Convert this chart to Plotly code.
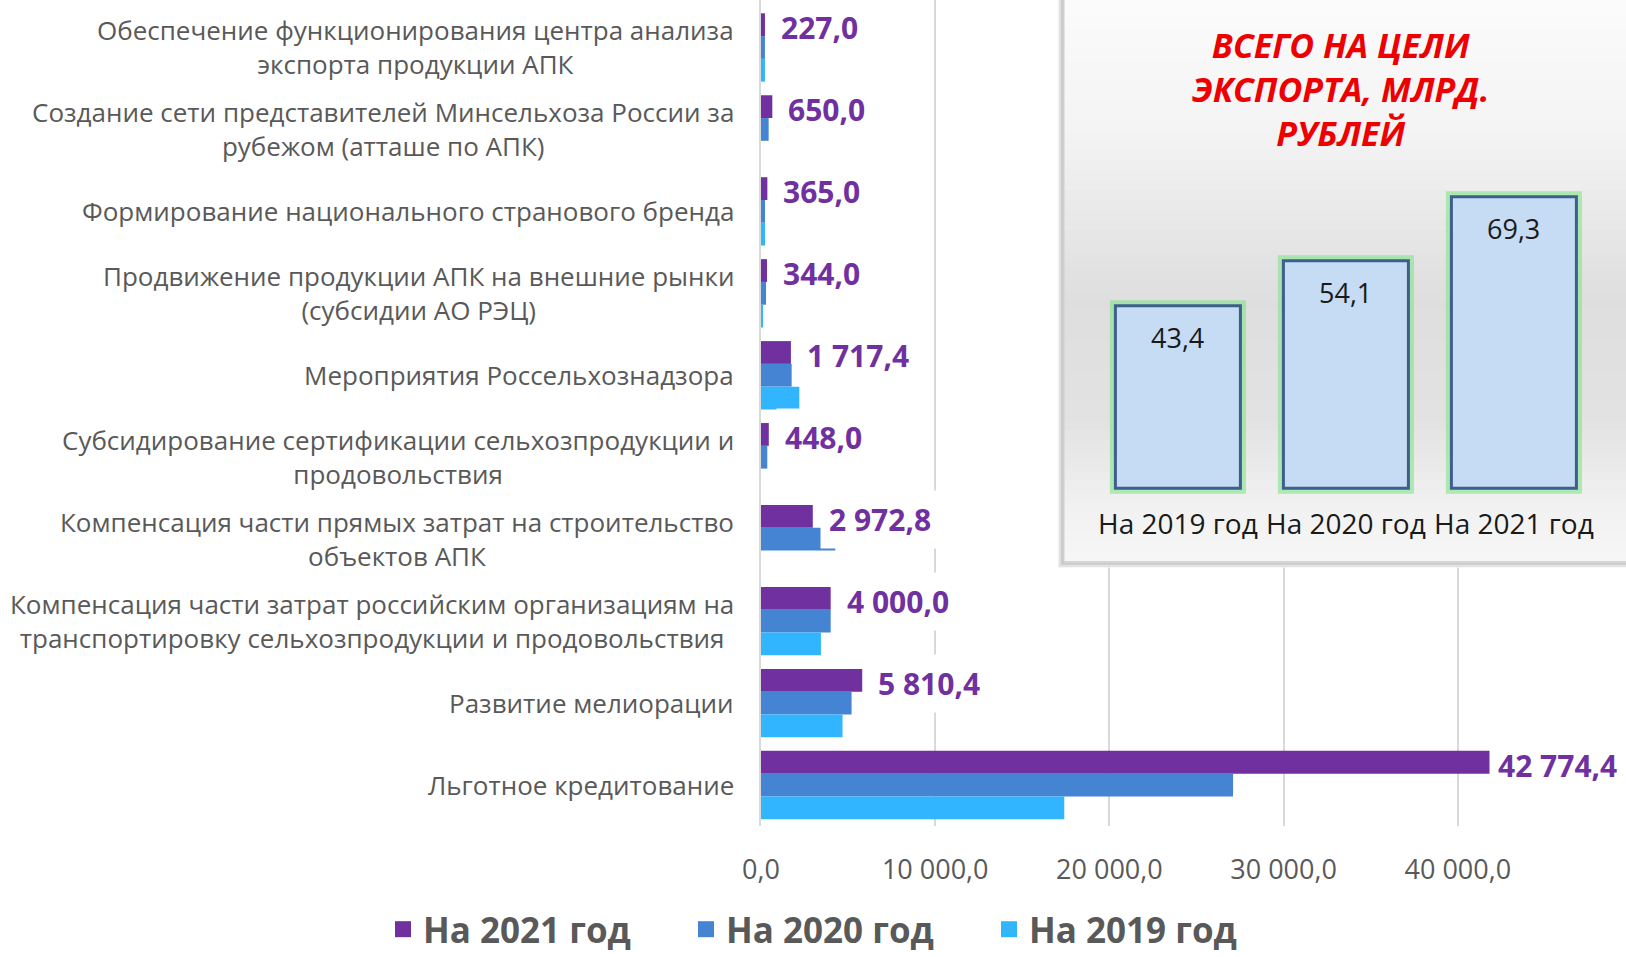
import plotly.graph_objects as go

# ---------------- data ----------------
categories = [
    "Обеспечение функционирования центра анализа<br>экспорта продукции АПК",
    "Создание сети представителей Минсельхоза России за<br>рубежом (атташе по АПК)",
    "Формирование национального странового бренда",
    "Продвижение продукции АПК на внешние рынки<br>(субсидии АО РЭЦ)",
    "Мероприятия Россельхознадзора",
    "Субсидирование сертификации сельхозпродукции и<br>продовольствия",
    "Компенсация части прямых затрат на строительство<br>объектов АПК",
    "Компенсация части затрат российским организациям на<br>транспортировку сельхозпродукции и продовольствия",
    "Развитие мелиорации",
    "Льготное кредитование",
]
v2021 = [227.0, 650.0, 365.0, 344.0, 1717.4, 448.0, 2972.8, 4000.0, 5810.4, 42774.4]
v2020 = [227.0, 440.0, 230.0, 290.0, 1760.0, 360.0, 4265.0, 4000.0, 5200.0, 27100.0]
v2019 = [227.0, 0.0, 230.0, 80.0, 2200.0, 0.0, 0.0, 3440.0, 4680.0, 17410.0]
series_names = ["На 2021 год", "На 2020 год", "На 2019 год"]
series_colors = ["#7030A0", "#4584D3", "#31B5FF"]
x_ticks = [0, 10000, 20000, 30000, 40000]

total_years = ["На 2019 год", "На 2020 год", "На 2021 год"]
total_values = [43.4, 54.1, 69.3]
inset_title = "ВСЕГО НА ЦЕЛИ<br>ЭКСПОРТА, МЛРД.<br>РУБЛЕЙ"

# ---------------- layout geometry (pixels) ----------------
W, H = 1626, 957
PL, PR, PT, PB = 761, 1626, 0, 826.5          # main plot area
ROW_PX = 82.0                                   # category spacing
BARGAP = 0.166
XMAX = (PR - PL) / 174.2 * 10000                 # 174.2 px per 10 000

# inset panel
IX0, IX1, IY0, IY1 = 1058, 1626, 0, 568          # inset subplot domain (incl. shadow)
BOX_X0, BOX_Y1 = 1064, 562                       # box (without shadow)
CAT_PX = 168.0
CAT0_PX = 1177.9
ZERO_PX = 488.6
UNIT_PX = 4.21


def fmt_main(v):
    return f"{v:,.1f}".replace(",", " ").replace(".", ",")


def fmt_inset(v):
    return f"{v:.1f}".replace(".", ",")


def x2d(px):
    return (px - CAT0_PX) / CAT_PX


def y2d(py):
    return (ZERO_PX - py) / UNIT_PX


def paper_x(px):
    return (px - PL) / (PR - PL)


def paper_y(py):
    return (PB - py) / (PB - PT)


n = len(categories)
top_extra = (PB - PT - n * ROW_PX) / ROW_PX
y_range = [n - 0.5, -0.5 - top_extra]

fig = go.Figure()

# main bars (top-to-bottom order inside a group: 2021, 2020, 2019)
for name, vals, color in zip(series_names, [v2021, v2020, v2019], series_colors):
    fig.add_trace(go.Bar(
        y=categories, x=vals, orientation="h", name=name,
        marker=dict(color=color, line=dict(width=0)),
        showlegend=False, hoverinfo="skip", xaxis="x", yaxis="y",
    ))

# legend entries
for name, color in zip(series_names, series_colors):
    fig.add_trace(go.Scatter(
        x=[None], y=[None], mode="markers", name=name,
        marker=dict(symbol="square", size=20, color=color),
        showlegend=True, xaxis="x", yaxis="y",
    ))

# inset bars: glow + body
fig.add_trace(go.Bar(
    x=total_years, y=total_values, xaxis="x2", yaxis="y2", width=0.744,
    offsetgroup="tot", showlegend=False, hoverinfo="skip",
    marker=dict(color="#c6dbf4", line=dict(color="rgba(120,225,130,0.55)", width=11)),
))
fig.add_trace(go.Bar(
    x=total_years, y=total_values, xaxis="x2", yaxis="y2", width=0.744,
    offsetgroup="tot", showlegend=False, hoverinfo="skip",
    marker=dict(color="#c6dbf4", line=dict(color="#3d5f8c", width=3)),
))

# ---------------- inset panel decoration ----------------
shapes = []
# shadow
for off, col in [(7, "rgba(0,0,0,0.05)"), (5, "rgba(0,0,0,0.07)"), (3, "rgba(0,0,0,0.09)")]:
    shapes.append(dict(type="rect", xref="x2", yref="y2", layer="between",
                       x0=x2d(BOX_X0 - off), x1=x2d(IX1 + 5), y0=y2d(BOX_Y1 + off), y1=y2d(IY0 - 5),
                       fillcolor=col, line=dict(width=0)))
# gradient bands
stops = [(0, 251), (130, 244), (300, 222), (420, 226), (500, 240), (562, 247)]


def gray_at(py):
    for (a, ga), (b, gb) in zip(stops[:-1], stops[1:]):
        if a <= py <= b:
            return ga + (gb - ga) * (py - a) / (b - a)
    return stops[-1][1]


NB = 56
for i in range(NB):
    y0p = IY0 + (BOX_Y1 - IY0) * i / NB
    y1p = IY0 + (BOX_Y1 - IY0) * (i + 1) / NB
    g = int(round(gray_at((y0p + y1p) / 2)))
    shapes.append(dict(type="rect", xref="x2", yref="y2", layer="between",
                       x0=x2d(BOX_X0), x1=x2d(IX1 + 5), y0=y2d(y1p + 0.6), y1=y2d(y0p - 0.6),
                       fillcolor=f"rgb({g},{g},{g})", line=dict(width=0)))
shapes.append(dict(type="rect", xref="x2", yref="y2", layer="between",
                   x0=x2d(BOX_X0), x1=x2d(IX1 + 5), y0=y2d(BOX_Y1), y1=y2d(IY0 - 5),
                   fillcolor="rgba(0,0,0,0)", line=dict(color="#d0d0d0", width=1)))

# ---------------- annotations ----------------
annotations = []
bar_px = (1 - BARGAP) * ROW_PX / 3
for cat in categories:
    annotations.append(dict(
        x=0, xref="paper", y=cat, yref="y", xanchor="right", yanchor="middle",
        xshift=-25, text=cat, showarrow=False, align="center",
        font=dict(family="Open Sans", size=26, color="#595959"),
    ))
for cat, v in zip(categories, v2021):
    near_edge = v > 0.8 * XMAX
    annotations.append(dict(
        x=1 if near_edge else v, xref="paper" if near_edge else "x",
        y=cat, yref="y", xanchor="right" if near_edge else "left", yanchor="middle",
        xshift=0 if near_edge else 7, yshift=bar_px - 3,
        text=fmt_main(v), showarrow=False, bgcolor="white", borderpad=8,
        font=dict(family="Open Sans", size=30, color="#7030A0", weight="bold"),
    ))
for yr, v in zip(total_years, total_values):
    annotations.append(dict(
        x=yr, xref="x2", y=v, yref="y2", yanchor="middle", yshift=-32,
        text=fmt_inset(v), showarrow=False,
        font=dict(family="Open Sans", size=27, color="#1a1a1a"),
    ))
annotations.append(dict(
    x=paper_x(1340), xref="paper", y=paper_y(89.5), yref="paper",
    xanchor="center", yanchor="middle", text=inset_title, showarrow=False, align="center",
    font=dict(family="Open Sans", size=34, color="#EE0000", weight="bold", style="italic"),
))

fig.update_layout(
    width=W, height=H, template="none",
    paper_bgcolor="white", plot_bgcolor="white",
    margin=dict(l=PL, r=W - PR, t=PT, b=H - PB, autoexpand=False),
    barmode="group", bargap=BARGAP, bargroupgap=0,
    separators=", ",
    font=dict(family="Open Sans", color="#595959"),
    xaxis=dict(domain=[0, 1], range=[0, XMAX], tickvals=x_ticks, tickformat=",.1f",
               showgrid=True, gridcolor="#d9d9d9", gridwidth=2, zeroline=False,
               showline=False, ticks="", ticklabelstandoff=25,
               tickfont=dict(family="Open Sans", size=27, color="#595959"), fixedrange=True),
    yaxis=dict(domain=[0, 1], type="category", categoryorder="array", categoryarray=categories,
               range=y_range, showticklabels=False, showgrid=False, zeroline=False,
               showline=True, linecolor="#d9d9d9", linewidth=2, ticks="", fixedrange=True),
    xaxis2=dict(domain=[paper_x(IX0), 1], anchor="y2", type="category",
                categoryorder="array", categoryarray=total_years,
                range=[x2d(IX0), x2d(IX1)], showgrid=False, zeroline=False, showline=False,
                ticks="", ticklabelposition="inside", ticklabelstandoff=25,
                tickfont=dict(family="Open Sans", size=28, color="#1a1a1a"), fixedrange=True),
    yaxis2=dict(domain=[paper_y(IY1), 1], anchor="x2",
                range=[y2d(IY1), y2d(IY0)], visible=False, fixedrange=True),
    legend=dict(orientation="h", xref="paper", yref="paper",
                x=paper_x(383), xanchor="left", y=paper_y(930), yanchor="middle",
                font=dict(family="Open Sans", size=35, color="#595959", weight="bold"),
                entrywidth=258, entrywidthmode="pixels", bgcolor="rgba(0,0,0,0)",
                itemclick=False, itemdoubleclick=False),
    shapes=shapes,
    annotations=annotations,
    showlegend=True,
)

fig.write_html("out.html", config={"displayModeBar": False})
